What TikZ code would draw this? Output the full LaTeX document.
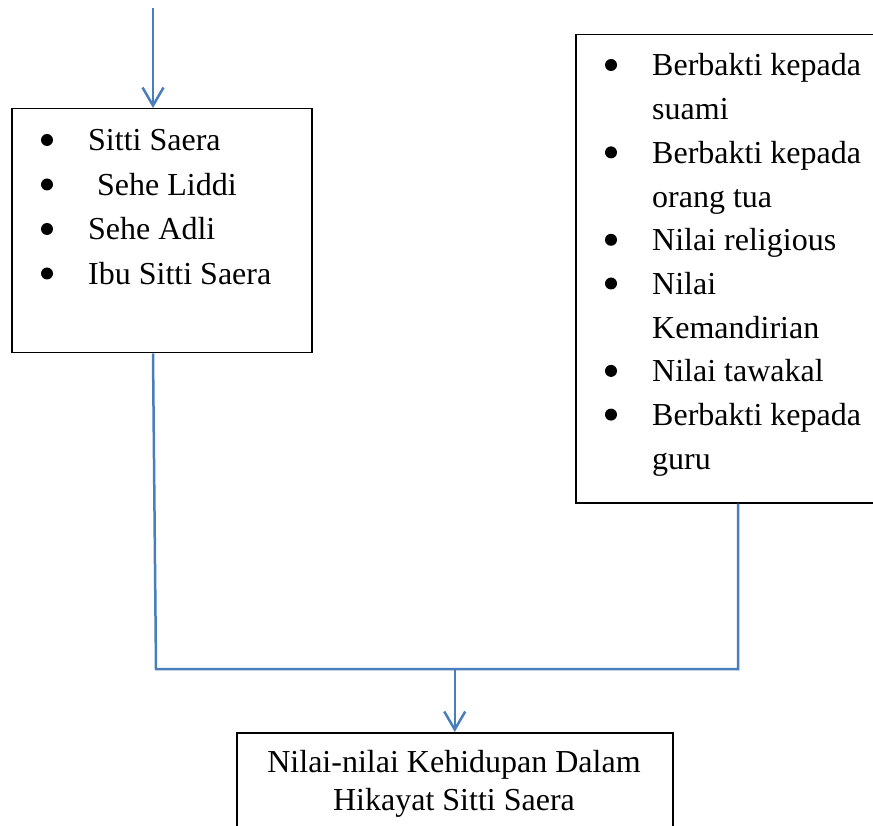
\documentclass[tikz,border=0pt]{standalone}
\usepackage{fontspec}
\setmainfont{Liberation Serif}
\usetikzlibrary{arrows.meta}
\definecolor{lineblue}{HTML}{4A7EBB}
\begin{document}
\begin{tikzpicture}[x=1pt,y=-1pt,
  box/.style={draw=black, line width=1.5pt, rectangle, inner sep=0pt, anchor=north west},
  conn/.style={draw=lineblue, line width=2.5pt},
  arr/.style={-{Straight Barb[length=18pt,width=21pt,line width=2.5pt]}},
  txt/.style={anchor=base west, inner sep=0pt, font=\fontsize{32}{38}\selectfont},
  ctxt/.style={anchor=base, inner sep=0pt, font=\fontsize{32}{38}\selectfont},
  bul/.style={fill=black}]
\useasboundingbox (0,0) rectangle (873,826);
\clip (0,0) rectangle (873,826);

% boxes
\node[box, minimum width=300pt, minimum height=244pt] (L) at (11,108) {};
\node[box, minimum width=301pt, minimum height=468pt] (R) at (575,34) {};
\node[box, minimum width=436pt, minimum height=110pt] (B) at (236,732) {};

% left box text
\foreach \y in {151, 195.5, 240, 284.5}{
  \fill[bul] (47,\y-11) circle (6);
}
\node[txt] (l1) at (88,151) {Sitti Saera};
\node[txt] (l2) at (97,195.5) {Sehe Liddi};
\node[txt] (l3) at (88,240) {Sehe Adli};
\node[txt] (l4) at (88,284.5) {Ibu Sitti Saera};

% right box text
\foreach \y in {76, 163.4, 250.8, 294.5, 381.9, 425.6}{
  \fill[bul] (611,\y-11) circle (6);
}
\node[txt] (r1) at (652,76) {Berbakti kepada};
\node[txt] (r2) at (652,119.7) {suami};
\node[txt] (r3) at (652,163.4) {Berbakti kepada};
\node[txt] (r4) at (652,207.1) {orang tua};
\node[txt] (r5) at (652,250.8) {Nilai religious};
\node[txt] (r6) at (652,294.5) {Nilai};
\node[txt] (r7) at (652,338.2) {Kemandirian};
\node[txt] (r8) at (652,381.9) {Nilai tawakal};
\node[txt] (r9) at (652,425.6) {Berbakti kepada};
\node[txt] (r10) at (652,469.3) {guru};

% bottom box text
\node[ctxt] (b1) at (454,772) {Nilai-nilai Kehidupan Dalam};
\node[ctxt] (b2) at (454,810) {Hikayat Sitti Saera};

% connectors
\coordinate (t0) at (153,8);
\coordinate (jl) at (156,669);
\coordinate (jr) at (738,669);
\draw[conn, arr] (t0) -- (t0 |- L.north);
\draw[conn] (t0 |- L.south) -- (jl) -- (jr) -- (jr |- R.south);
\draw[conn, arr] (jl -| B.north) -- (B.north);
\end{tikzpicture}
\end{document}
